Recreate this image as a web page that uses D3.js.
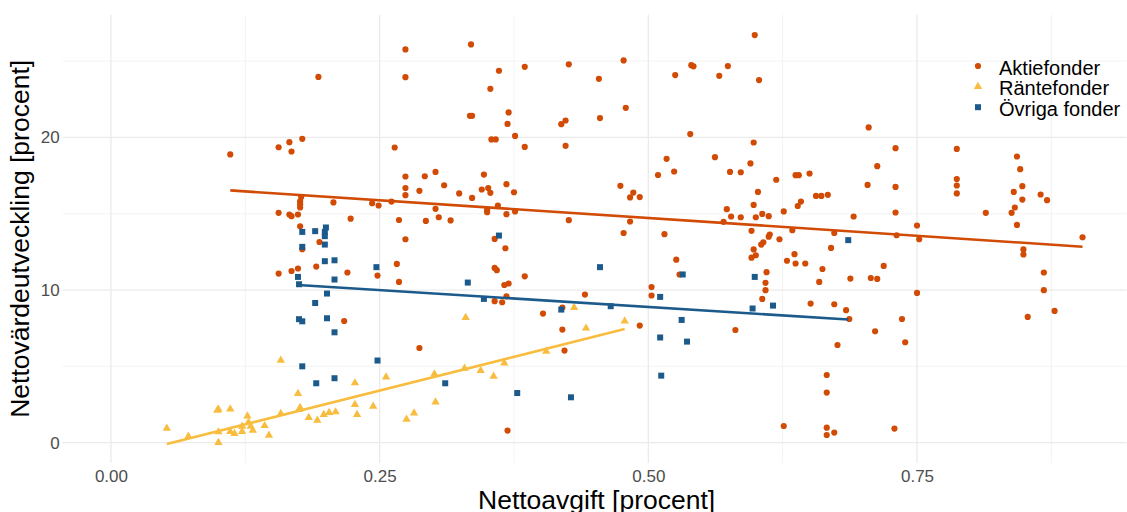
<!DOCTYPE html>
<html>
<head>
<meta charset="utf-8">
<script src="https://cdn.jsdelivr.net/npm/d3@7"></script>
<style>
	body { margin: 0; background: #ffffff; }
	text { font-family: 'Liberation Sans', Arial, sans-serif; }
</style>
</head>
<body>
<div id="viz"></div>
<script>
let categories = ['Aktiefonder', 'Räntefonder', 'Övriga fonder']

// [nettoavgift, nettovärdeutveckling]
let aktiefonder = [
	[0.193, 23.97], [0.111, 18.89], [0.156, 19.36], [0.166, 19.69], [0.168, 19.08], [0.178, 19.91], [0.264, 19.34],
	[0.177, 16.09], [0.176, 15.82], [0.176, 15.63], [0.176, 15.41], [0.207, 15.74], [0.243, 15.69], [0.249, 15.54],
	[0.261, 15.8], [0.156, 15.06], [0.166, 14.95], [0.168, 14.84], [0.174, 14.95], [0.223, 14.68], [0.268, 14.59],
	[0.176, 14.18], [0.194, 13.15], [0.178, 12.68], [0.156, 11.08], [0.168, 11.25], [0.174, 11.41], [0.191, 11.54],
	[0.22, 11.15], [0.248, 10.95], [0.266, 11.71], [0.268, 10.53], [0.217, 7.97],
	[0.274, 25.77], [0.335, 26.1], [0.274, 23.95], [0.361, 24.37], [0.385, 24.63], [0.426, 24.79], [0.477, 25.05],
	[0.454, 23.84], [0.353, 23.19], [0.599, 26.71], [0.54, 24.74], [0.542, 24.66], [0.525, 24.09], [0.566, 24.04],
	[0.574, 24.68], [0.603, 23.76],
	[0.334, 21.42], [0.336, 21.42], [0.37, 21.64], [0.369, 20.89], [0.419, 20.87], [0.423, 21.11], [0.455, 21.27],
	[0.479, 21.94], [0.376, 20.1], [0.354, 19.87], [0.358, 19.87], [0.385, 19.38], [0.423, 19.45], [0.539, 20.22],
	[0.598, 19.67], [0.562, 18.71], [0.517, 18.6], [0.595, 18.3], [0.576, 17.74], [0.586, 17.72], [0.524, 17.77],
	[0.509, 17.54], [0.619, 17.23],
	[0.274, 17.44], [0.292, 17.46], [0.302, 17.74], [0.347, 17.57], [0.274, 16.68], [0.274, 16.22], [0.287, 16.5],
	[0.31, 16.87], [0.324, 16.33], [0.336, 16.04], [0.345, 16.59], [0.351, 16.68], [0.353, 16.37], [0.368, 16.94],
	[0.375, 16.41], [0.474, 16.83], [0.486, 16.39], [0.483, 16.07], [0.492, 16.09], [0.602, 16.43],
	[0.302, 15.32], [0.36, 15.54], [0.35, 15.25], [0.35, 15.1], [0.368, 14.97], [0.376, 15.15], [0.305, 14.77],
	[0.293, 14.53], [0.316, 14.56], [0.426, 14.58], [0.483, 14.49], [0.477, 13.74], [0.515, 13.66], [0.573, 15.3],
	[0.577, 14.82], [0.586, 14.77], [0.598, 15.58], [0.606, 14.99], [0.612, 14.84], [0.6, 14.77], [0.57, 14.47],
	[0.596, 13.88], [0.613, 13.64], [0.612, 13.5], [0.622, 13.33], [0.607, 13.13], [0.605, 12.98], [0.598, 12.66],
	[0.6, 12.28], [0.596, 12.12], [0.274, 13.33], [0.357, 13.35], [0.367, 12.74], [0.526, 11.99],
	[0.705, 20.66], [0.73, 19.3], [0.787, 19.25], [0.843, 18.75], [0.846, 17.92], [0.713, 18.12], [0.637, 17.53],
	[0.64, 17.53], [0.65, 17.64], [0.704, 16.89], [0.73, 16.76], [0.787, 17.27], [0.787, 16.85], [0.787, 16.33],
	[0.84, 16.43], [0.848, 16.81], [0.848, 15.93], [0.865, 16.26], [0.871, 15.89], [0.642, 15.8], [0.639, 15.51],
	[0.656, 16.17], [0.661, 16.17], [0.667, 16.24], [0.626, 15.15], [0.691, 14.82], [0.73, 15.08], [0.841, 15.41],
	[0.838, 15.06], [0.814, 15.06], [0.843, 14.27], [0.75, 14.23], [0.634, 13.92], [0.673, 13.74], [0.731, 13.59],
	[0.752, 13.33], [0.904, 13.46], [0.67, 12.76], [0.636, 12.35], [0.849, 12.66], [0.849, 12.33], [0.629, 11.92],
	[0.357, 11.45], [0.359, 11.3], [0.366, 10.33], [0.37, 10.43], [0.385, 10.9], [0.368, 9.59], [0.357, 9.27],
	[0.364, 9.2], [0.441, 9.7], [0.402, 8.46], [0.42, 8.85], [0.42, 7.41], [0.287, 6.2], [0.422, 6.03],
	[0.369, 0.79], [0.492, 7.67], [0.503, 10.2], [0.503, 9.64], [0.529, 11.02], [0.61, 11.17], [0.609, 10.47],
	[0.609, 9.99], [0.606, 9.42], [0.581, 7.38],
	[0.637, 11.74], [0.646, 11.74], [0.662, 11.38], [0.659, 10.53], [0.688, 10.75], [0.707, 10.79], [0.713, 10.73],
	[0.719, 11.58], [0.651, 9.11], [0.673, 9.07], [0.684, 8.68], [0.687, 8.1], [0.75, 9.81], [0.736, 8.1],
	[0.711, 7.3], [0.739, 6.58], [0.676, 6.4], [0.666, 4.43], [0.666, 3.28], [0.626, 1.09], [0.666, 0.98],
	[0.666, 0.5], [0.673, 0.66], [0.729, 0.92], [0.868, 11.15], [0.868, 9.99], [0.853, 8.24], [0.878, 8.63]
]

let rantefonder = [
	[0.158, 5.4], [0.174, 3.21], [0.227, 3.91], [0.256, 4.3], [0.1, 2.18], [0.099, 2.12], [0.111, 2.2],
	[0.127, 1.74], [0.158, 1.9], [0.175, 2.16], [0.176, 2.3], [0.184, 1.64], [0.192, 1.46], [0.198, 1.84],
	[0.203, 1.97], [0.209, 2.01], [0.227, 2.49], [0.229, 1.84], [0.244, 2.38], [0.052, 0.94], [0.072, 0.41],
	[0.1, 0.7], [0.1, 0], [0.111, 0.72], [0.115, 0.59], [0.122, 0.72], [0.122, 1.07], [0.128, 1.33],
	[0.13, 1.07], [0.132, 0.81], [0.143, 1.11], [0.147, 0.48], [0.33, 8.2], [0.431, 8.85], [0.478, 7.97],
	[0.442, 7.5], [0.405, 5.99], [0.366, 5.22], [0.329, 4.87], [0.344, 4.72], [0.356, 4.35], [0.301, 4.5],
	[0.302, 2.66], [0.282, 1.94], [0.275, 1.53]
]

let ovriga = [
	[0.178, 13.81], [0.19, 13.86], [0.2, 14.1], [0.199, 13.81], [0.199, 13.53], [0.199, 12.98], [0.178, 12.83],
	[0.199, 11.89], [0.208, 11.95], [0.247, 11.5], [0.174, 10.86], [0.208, 10.69], [0.175, 10.38], [0.201, 9.77],
	[0.19, 9.15], [0.175, 8.09], [0.178, 7.95], [0.201, 8.15], [0.208, 7.23], [0.248, 5.38], [0.178, 5],
	[0.191, 3.89], [0.208, 4.22], [0.361, 13.57], [0.332, 10.49], [0.347, 9.42], [0.419, 8.72], [0.455, 11.5],
	[0.465, 8.94], [0.511, 9.55], [0.532, 11.02], [0.531, 8.04], [0.511, 6.89], [0.536, 6.62], [0.512, 4.39],
	[0.599, 10.86], [0.597, 8.79], [0.616, 8.98], [0.311, 3.89], [0.378, 3.25], [0.428, 2.97], [0.686, 13.27]
]

// trend line value at the lowest and highest nettoavgift of each group
let trend_aktie = [16.53, 12.84]
let trend_rante = [-0.09, 7.44]
let trend_ovriga = [10.33, 8.07]

let x_ticks = [0, 0.25, 0.5, 0.75]
let x_minor = [0.125, 0.375, 0.625, 0.875]
let y_ticks = [0, 10, 20]
let y_minor = [5, 15, 25]

const WIDTH = 1127
const HEIGHT = 512
const PANEL = { left: 62.6, right: 1126.6, top: 14.7, bottom: 463 }
const COLORS = ['#d14b05', '#f8bd3f', '#1b5a8b']
const SHAPES = [d3.symbolCircle, d3.symbolTriangle, d3.symbolSquare]
const SIZES = [30, 30, 36]

let series = [aktiefonder, rantefonder, ovriga]
let trends = [trend_aktie, trend_rante, trend_ovriga]

let all_y = series.flat().map((d) => d[1])
let [y_lo, y_hi] = d3.extent(all_y)
let y_pad = (y_hi - y_lo) * 0.05

let x = d3.scaleLinear().domain([-0.045, 0.945]).range([PANEL.left, PANEL.right])
let y = d3.scaleLinear().domain([y_lo - y_pad, y_hi + y_pad]).range([PANEL.bottom, PANEL.top])

let svg = d3
	.select('#viz')
	.append('svg')
	.attr('width', WIDTH)
	.attr('height', HEIGHT)

let grid = svg.append('g')

grid.selectAll('.xminor')
	.data(x_minor)
	.enter()
	.append('line')
	.attr('x1', (d) => x(d))
	.attr('x2', (d) => x(d))
	.attr('y1', PANEL.top)
	.attr('y2', PANEL.bottom)
	.style('stroke', '#f0f0f0')
	.style('stroke-width', 0.8)

grid.selectAll('.yminor')
	.data(y_minor)
	.enter()
	.append('line')
	.attr('x1', PANEL.left)
	.attr('x2', PANEL.right)
	.attr('y1', (d) => y(d))
	.attr('y2', (d) => y(d))
	.style('stroke', '#f0f0f0')
	.style('stroke-width', 0.8)

grid.selectAll('.xmajor')
	.data(x_ticks)
	.enter()
	.append('line')
	.attr('x1', (d) => x(d))
	.attr('x2', (d) => x(d))
	.attr('y1', PANEL.top)
	.attr('y2', PANEL.bottom)
	.style('stroke', '#ebebeb')
	.style('stroke-width', 1.3)

grid.selectAll('.ymajor')
	.data(y_ticks)
	.enter()
	.append('line')
	.attr('x1', PANEL.left)
	.attr('x2', PANEL.right)
	.attr('y1', (d) => y(d))
	.attr('y2', (d) => y(d))
	.style('stroke', '#ebebeb')
	.style('stroke-width', 1.3)

let x_axis = svg
	.append('g')
	.attr('transform', `translate(0, ${PANEL.bottom})`)
	.call(d3.axisBottom(x).tickValues(x_ticks).tickFormat(d3.format('.2f')).tickSize(0).tickPadding(7))

let y_axis = svg
	.append('g')
	.attr('transform', `translate(${PANEL.left}, 0)`)
	.call(d3.axisLeft(y).tickValues(y_ticks).tickSize(0).tickPadding(3))

for (let ax of [x_axis, y_axis]) {
	ax.select('.domain').remove()
	ax.selectAll('text')
		.style('font-size', '17px')
		.style('fill', '#4d4d4d')
		.style('font-family', "'Liberation Sans', Arial, sans-serif")
}

let symbol = (i) => d3.symbol().type(SHAPES[i]).size(SIZES[i])()

series.forEach((points, i) => {
	svg.append('g')
		.selectAll('path')
		.data(points)
		.enter()
		.append('path')
		.attr('d', symbol(i))
		.attr('transform', (d) => `translate(${x(d[0])}, ${y(d[1])})`)
		.style('fill', COLORS[i])
})

let line = d3.line().x((d) => x(d[0])).y((d) => y(d[1]))

series.forEach((points, i) => {
	let [x0, x1] = d3.extent(points, (d) => d[0])
	svg.append('path')
		.datum([[x0, trends[i][0]], [x1, trends[i][1]]])
		.attr('d', line)
		.style('fill', 'none')
		.style('stroke', COLORS[i])
		.style('stroke-width', 2.6)
})

let legend = svg
	.append('g')
	.attr('transform', 'translate(978, 66)')

let items = legend
	.selectAll('g')
	.data(categories)
	.enter()
	.append('g')
	.attr('transform', (d, i) => `translate(0, ${i * 20.6})`)

items.append('path')
	.attr('d', (d, i) => symbol(i))
	.style('fill', (d, i) => COLORS[i])

items.append('text')
	.attr('x', 21)
	.attr('y', 8.5)
	.style('font-size', '20px')
	.style('fill', '#000000')
	.text((d) => d)

svg.append('text')
	.attr('x', (PANEL.left + PANEL.right) / 2 + 2)
	.attr('y', 509)
	.attr('text-anchor', 'middle')
	.style('font-size', '26.5px')
	.style('fill', '#000000')
	.text('Nettoavgift [procent]')

svg.append('text')
	.attr('transform', `translate(29, ${(PANEL.top + PANEL.bottom) / 2}) rotate(-90)`)
	.attr('text-anchor', 'middle')
	.style('font-size', '26.5px')
	.style('fill', '#000000')
	.text('Nettovärdeutveckling [procent]')
</script>
</body>
</html>
